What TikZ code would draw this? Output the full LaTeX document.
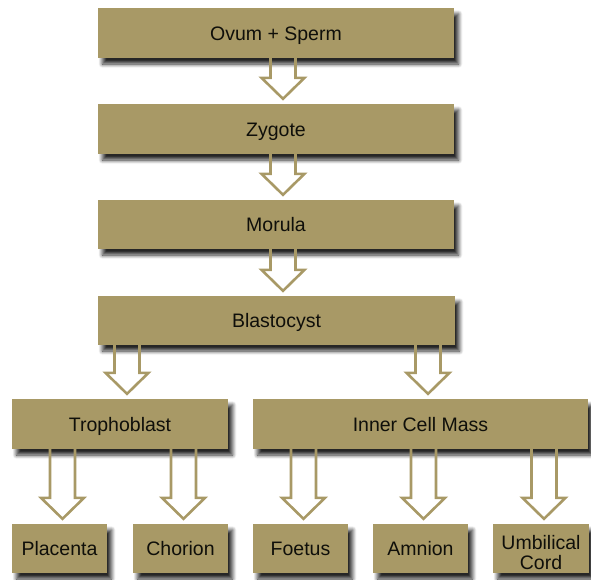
\documentclass[tikz,border=0pt]{standalone}
\usepackage{fontspec}
\setmainfont{Liberation Sans}
\usetikzlibrary{shadows.blur,calc}
\definecolor{khaki}{RGB}{168,153,102}
\definecolor{txt}{RGB}{15,15,10}
\tikzset{
  basebox/.style={fill=khaki, draw=none, inner sep=0pt, text=txt,
    font=\fontsize{19.5}{20}\selectfont, align=center,
    blur shadow={shadow xshift=4.5pt, shadow yshift=-6pt, shadow blur radius=4pt, shadow blur steps=8, shadow opacity=85}},
  box/.style={basebox, text height=14pt, text depth=0pt},
  wide/.style={box, minimum width=356pt, minimum height=50pt},
  small/.style={box, minimum width=95pt, minimum height=49pt},
  harrow/.style={draw=khaki, line width=2.6pt, line join=miter}
}
\newcommand{\hollowarrow}[3]{%
  \draw[harrow] let \p1=(#2.north), \p2=(#1.south) in
    ({\x1+#3pt-12.5pt},\y2) -- ({\x1+#3pt-12.5pt},{\y1+26pt})
    -- ({\x1+#3pt-21.5pt},{\y1+26pt}) -- ({\x1+#3pt},{\y1+5pt})
    -- ({\x1+#3pt+21.5pt},{\y1+26pt}) -- ({\x1+#3pt+12.5pt},{\y1+26pt})
    -- ({\x1+#3pt+12.5pt},\y2);}
\begin{document}
\begin{tikzpicture}[x=1pt,y=-1pt]
\useasboundingbox (0,0) rectangle (591,579);
\node[wide] (ovum) at (276,33) {Ovum + Sperm};
\node[wide] (zyg) at (276,129) {Zygote};
\node[wide, minimum height=49pt] (mor) at (276,224.5) {Morula};
\node[wide, minimum width=357pt, minimum height=49pt] (bla) at (276.5,320.5) {Blastocyst};
\node[box, minimum width=216pt, minimum height=50pt] (tro) at (120,424) {Trophoblast};
\node[box, minimum width=335pt, minimum height=50pt] (icm) at (420.5,424) {Inner Cell Mass};
\node[small] (pla) at (59.5,548.5) {Placenta};
\node[small] (cho) at (180.5,548.5) {Chorion};
\node[small] (foe) at (300.5,548.5) {Foetus};
\node[small] (amn) at (420.5,548.5) {Amnion};
\node[basebox, minimum width=96pt, minimum height=49pt] (umb) at (541,548.5) {\rule{0pt}{22pt}Umbilical\\Cord};
\hollowarrow{ovum}{zyg}{7}
\hollowarrow{zyg}{mor}{7}
\hollowarrow{mor}{bla}{6.5}
\hollowarrow{bla}{tro}{7}
\hollowarrow{bla}{icm}{7.5}
\hollowarrow{tro}{pla}{3}
\hollowarrow{tro}{cho}{3}
\hollowarrow{icm}{foe}{3}
\hollowarrow{icm}{amn}{3}
\hollowarrow{icm}{umb}{3}
\end{tikzpicture}
\end{document}
